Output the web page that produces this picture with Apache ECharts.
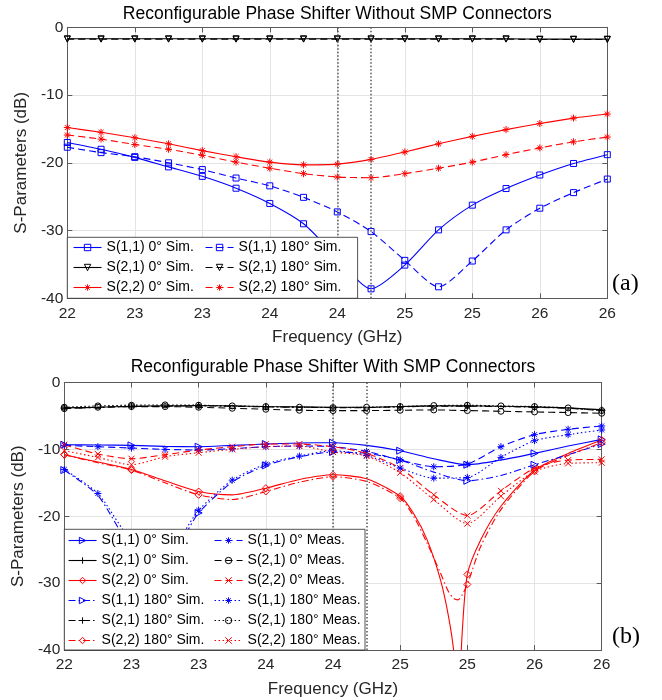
<!DOCTYPE html>
<html><head><meta charset="utf-8">
<script src="https://cdn.jsdelivr.net/npm/echarts@6/dist/echarts.min.js"></script>
<style>html,body{margin:0;padding:0;background:#fff}#c{width:662px;height:700px}</style>
</head><body><div id="c"></div>
<script>
// ---------------- DATA ----------------
const xTickLabels = ['22','23','23','24','24','25','25','26','26']; // labels at 22, 22.5, ... 26
const yTickValues = [0,-10,-20,-30,-40];
const markerFreqs = [24, 24.25];

// (a) Without SMP connectors — frequency points (GHz)
const freqA = [22,22.25,22.5,22.75,23,23.25,23.5,23.75,24,24.25,24.5,24.75,25,25.25,25.5,25.75,26];
const aS11_0   = [-17.0,-18.0,-19.2,-20.6,-22.0,-23.75,-26.0,-29.0,-34.0,-38.6,-35.1,-29.9,-26.25,-23.8,-21.8,-20.1,-18.8];
const aS11_180 = [-17.7,-18.5,-19.1,-20.0,-21.0,-22.25,-23.4,-25.1,-27.25,-30.15,-34.4,-38.3,-34.5,-29.9,-26.7,-24.4,-22.4];
const aS21_0   = [-1.7,-1.7,-1.7,-1.7,-1.7,-1.7,-1.7,-1.7,-1.7,-1.7,-1.7,-1.7,-1.7,-1.7,-1.75,-1.75,-1.75];
const aS21_180 = [-1.75,-1.75,-1.75,-1.75,-1.75,-1.75,-1.75,-1.75,-1.75,-1.75,-1.75,-1.75,-1.75,-1.75,-1.8,-1.8,-1.8];
const aS22_0   = [-14.8,-15.5,-16.3,-17.2,-18.2,-19.1,-19.9,-20.3,-20.2,-19.5,-18.4,-17.2,-16.1,-15.1,-14.2,-13.4,-12.8];
const aS22_180 = [-15.9,-16.5,-17.3,-18.0,-18.9,-19.9,-20.8,-21.6,-22.1,-22.2,-21.6,-20.8,-19.9,-18.8,-17.8,-16.9,-16.2];

// (b) With SMP connectors
const freqB = [22,22.25,22.5,22.75,23,23.25,23.5,23.75,24,24.25,24.5,24.75,25,25.25,25.5,25.75,26];
const bS11_0Sim    = [-9.3,-9.35,-9.4,-9.55,-9.6,-9.4,-9.2,-9.05,-9.0,-9.4,-10.2,-11.4,-12.3,-11.6,-10.6,-9.5,-8.5];
const bS21_0Sim    = [-3.8,-3.7,-3.55,-3.5,-3.45,-3.5,-3.6,-3.65,-3.7,-3.7,-3.6,-3.5,-3.5,-3.55,-3.65,-3.8,-4.1];
const bS11_180Sim  = [-13.1,-16.9,-24.5,-26.5,-19.5,-14.9,-12.4,-11.1,-10.4,-10.6,-11.6,-13.4,-14.7,-13.9,-12.3,-10.8,-9.2];
const bS21_180Sim  = [-3.85,-3.75,-3.6,-3.55,-3.5,-3.55,-3.65,-3.7,-3.75,-3.75,-3.65,-3.55,-3.55,-3.6,-3.7,-3.85,-4.2];
const freqB22Sim   = [22,22.25,22.5,22.75,23,23.25,23.5,23.75,24,24.25,24.5,24.6,24.7,24.8,24.86,24.9,24.93,24.96,25,25.1,25.25,25.5,25.75,26];
const bS22_0Sim    = [-10.8,-11.9,-13.0,-14.7,-16.3,-16.8,-15.8,-14.5,-13.8,-14.4,-17.0,-19.6,-23.5,-29.5,-35.0,-40.5,-50,-38.0,-28.7,-23.5,-18.5,-13.1,-10.6,-8.6];
const bS22_180Sim  = [-10.8,-12.0,-13.1,-15.0,-16.8,-17.5,-16.3,-14.9,-14.1,-14.8,-17.3,-20.0,-24.0,-28.5,-31.3,-32.3,-32.5,-31.8,-30.2,-24.5,-19.0,-13.3,-10.9,-9.0];
const bS11_0Meas   = [-9.4,-9.6,-9.8,-10.0,-10.1,-9.9,-9.6,-9.5,-9.6,-10.3,-11.6,-12.6,-12.2,-9.6,-7.8,-7.0,-6.5];
const bS21_0Meas   = [-3.9,-3.7,-3.6,-3.6,-3.7,-3.85,-4.0,-4.15,-4.2,-4.2,-4.15,-4.1,-4.2,-4.3,-4.4,-4.5,-4.6];
const bS22_0Meas   = [-9.3,-10.7,-11.4,-10.8,-10.1,-9.6,-9.2,-9.2,-9.6,-10.6,-12.8,-16.8,-19.9,-16.2,-12.8,-11.6,-11.5];
const bS11_180Meas = [-13.0,-16.6,-23.5,-25.5,-19.1,-14.6,-12.2,-11.0,-10.2,-10.9,-12.8,-14.3,-14.2,-11.2,-8.7,-7.8,-7.1];
const bS21_180Meas = [-3.7,-3.5,-3.4,-3.35,-3.4,-3.5,-3.6,-3.7,-3.75,-3.7,-3.6,-3.45,-3.4,-3.5,-3.6,-3.8,-4.2];
const bS22_180Meas = [-10.2,-11.2,-12.3,-11.1,-10.5,-10.0,-9.6,-9.5,-10.4,-11.0,-13.5,-17.5,-21.1,-17.0,-13.3,-12.1,-12.0];

// ---------------- STYLE ----------------
const FONT = "'Liberation Sans', Arial, Helvetica, sans-serif";
const BLUE = '#0000ff', RED = '#ff0000', BLACK = '#000000';
const SYM = {
  square: 'rect',
  triDown: 'path://M0,0L10,0L5,9Z',
  triRight: 'path://M0,0L9,5L0,10Z',
  asterisk: 'path://M5,0L5,10M0,5L10,5M1.5,1.5L8.5,8.5M8.5,1.5L1.5,8.5',
  plus: 'path://M5,0L5,10M0,5L10,5',
  cross: 'path://M0,0L10,10M10,0L0,10',
  diamond: 'diamond',
  circle: 'circle'
};
const DASH = { solid: 'solid', dashed: [7,4], dotted: [1.5,2.5], dashdot: [7,3,1.5,3] };

function pts(xs, ys, step) {
  return xs.map((x, i) => {
    const on = Math.abs(x / step - Math.round(x / step)) < 1e-6;
    return on ? [x, ys[i]] : { value: [x, ys[i]], symbol: 'none' };
  });
}
function mkSeries(name, xs, ys, color, dash, sym, size, step, axis) {
  return {
    type: 'line', name: name, data: pts(xs, ys, step),
    xAxisIndex: axis, yAxisIndex: axis,
    smooth: 0.25, symbol: SYM[sym], symbolSize: size, showSymbol: true, showAllSymbol: true,
    lineStyle: { color: color, width: 1.1, type: DASH[dash] },
    itemStyle: { color: 'rgba(0,0,0,0)', borderColor: color, borderWidth: 1 },
    emphasis: { disabled: true }, silent: true, animation: false, z: 2
  };
}
const mlStyle = { color: '#555555', type: [1.5, 2], width: 1.5 };
function markLineFor(s) {
  s.markLine = { silent: true, symbol: ['none','none'], label: { show: false }, z: 3,
    lineStyle: mlStyle, animation: false, data: markerFreqs.map(f => ({ xAxis: f })) };
  return s;
}

const series = [
  markLineFor(mkSeries('S(1,1) 0° Sim.', freqA, aS11_0, BLUE, 'solid', 'square', 6, 0.25, 0)),
  mkSeries('S(1,1) 180° Sim.', freqA, aS11_180, BLUE, 'dashed', 'square', 6, 0.25, 0),
  mkSeries('S(2,1) 0° Sim.', freqA, aS21_0, BLACK, 'solid', 'triDown', 6, 0.25, 0),
  mkSeries('S(2,1) 180° Sim.', freqA, aS21_180, BLACK, 'dashed', 'triDown', 6, 0.25, 0),
  mkSeries('S(2,2) 0° Sim.', freqA, aS22_0, RED, 'solid', 'asterisk', 7, 0.25, 0),
  mkSeries('S(2,2) 180° Sim.', freqA, aS22_180, RED, 'dashed', 'asterisk', 7, 0.25, 0),

  markLineFor(mkSeries('S(1,1) 0° Sim.|b', freqB, bS11_0Sim, BLUE, 'solid', 'triRight', 7, 0.5, 2)),
  mkSeries('S(2,1) 0° Sim.|b', freqB, bS21_0Sim, BLACK, 'solid', 'plus', 7, 0.5, 2),
  mkSeries('S(2,2) 0° Sim.|b', freqB22Sim, bS22_0Sim, RED, 'solid', 'diamond', 7, 0.5, 2),
  mkSeries('S(1,1) 180° Sim.|b', freqB, bS11_180Sim, BLUE, 'dashdot', 'triRight', 7, 0.5, 2),
  mkSeries('S(2,1) 180° Sim.|b', freqB, bS21_180Sim, BLACK, 'dashdot', 'plus', 7, 0.5, 2),
  mkSeries('S(2,2) 180° Sim.|b', freqB22Sim, bS22_180Sim, RED, 'dashdot', 'diamond', 7, 0.5, 2),
  mkSeries('S(1,1) 0° Meas.', freqB, bS11_0Meas, BLUE, 'dashed', 'asterisk', 7, 0.25, 2),
  mkSeries('S(2,1) 0° Meas.', freqB, bS21_0Meas, BLACK, 'dashed', 'circle', 6, 0.25, 2),
  mkSeries('S(2,2) 0° Meas.', freqB, bS22_0Meas, RED, 'dashed', 'cross', 6, 0.25, 2),
  mkSeries('S(1,1) 180° Meas.', freqB, bS11_180Meas, BLUE, 'dotted', 'asterisk', 7, 0.25, 2),
  mkSeries('S(2,1) 180° Meas.', freqB, bS21_180Meas, BLACK, 'dotted', 'circle', 6, 0.25, 2),
  mkSeries('S(2,2) 180° Meas.', freqB, bS22_180Meas, RED, 'dotted', 'cross', 6, 0.25, 2)
];

const AX = '#5a5a5a', TXT = '#262626', GRIDC = '#e3e3e3';
function xAx(grid, main, gap) {
  return {
    gridIndex: grid, type: 'value', min: 22, max: 26, interval: 0.5,
    position: main ? 'bottom' : 'top',
    axisLine: { show: true, onZero: false, lineStyle: { color: AX, width: 1 } },
    axisTick: { show: true, inside: true, length: 5, lineStyle: { color: AX } },
    axisLabel: { show: main, margin: 7, color: TXT, fontFamily: FONT, fontSize: 15.5,
      formatter: v => xTickLabels[Math.round((v - 22) / 0.5)] },
    splitLine: { show: main, lineStyle: { color: GRIDC, width: 1 } },
    name: main ? 'Frequency (GHz)' : '', nameLocation: 'middle', nameGap: gap,
    nameTextStyle: { color: TXT, fontFamily: FONT, fontSize: 17 }
  };
}
function yAx(grid, main, gap) {
  return {
    gridIndex: grid, type: 'value', min: -40, max: 0, interval: 10,
    position: main ? 'left' : 'right',
    axisLine: { show: true, onZero: false, lineStyle: { color: AX, width: 1 } },
    axisTick: { show: true, inside: true, length: 5, lineStyle: { color: AX } },
    axisLabel: { show: main, margin: 4, color: TXT, fontFamily: FONT, fontSize: 15.5,
      formatter: v => String(yTickValues.find(t => Math.abs(t - v) < 1e-6) ?? v) },
    splitLine: { show: main, lineStyle: { color: GRIDC, width: 1 } },
    name: main ? 'S-Parameters (dB)' : '', nameLocation: 'middle', nameGap: gap, nameRotate: 90,
    nameTextStyle: { color: TXT, fontFamily: FONT, fontSize: 17 }
  };
}
function legend(names, left, top) {
  return {
    orient: 'vertical', left: left, top: top, padding: 0, itemGap: 0,
    itemWidth: 28, itemHeight: 8, selectedMode: false, z: 10,
    data: names,
    formatter: n => n.split('|')[0],
    textStyle: { fontFamily: FONT, fontSize: 14, color: '#000', lineHeight: 20 },
    itemStyle: { borderWidth: 1 },
    lineStyle: { width: 1.1 }
  };
}

const option = {
  animation: false,
  backgroundColor: '#ffffff',
  grid: [
    { left: 67.3, top: 27.3, width: 540, height: 271, outerBoundsMode: 'none' },
    { left: 64.3, top: 382.5, width: 537.4, height: 267.5, outerBoundsMode: 'none' }
  ],
  xAxis: [xAx(0, true, 31), xAx(0, false, 0), xAx(1, true, 31), xAx(1, false, 0)],
  yAxis: [yAx(0, true, 33), yAx(0, false, 0), yAx(1, true, 31), yAx(1, false, 0)],
  legend: [
    legend(['S(1,1) 0° Sim.', 'S(2,1) 0° Sim.', 'S(2,2) 0° Sim.'], 73, 237.5),
    legend(['S(1,1) 180° Sim.', 'S(2,1) 180° Sim.', 'S(2,2) 180° Sim.'], 205, 237.5),
    legend(['S(1,1) 0° Sim.|b', 'S(2,1) 0° Sim.|b', 'S(2,2) 0° Sim.|b',
            'S(1,1) 180° Sim.|b', 'S(2,1) 180° Sim.|b', 'S(2,2) 180° Sim.|b'], 68, 530.5),
    legend(['S(1,1) 0° Meas.', 'S(2,1) 0° Meas.', 'S(2,2) 0° Meas.',
            'S(1,1) 180° Meas.', 'S(2,1) 180° Meas.', 'S(2,2) 180° Meas.'], 214, 530.5)
  ],
  graphic: { elements: [
    { type: 'rect', z: 5, silent: true, shape: { x: 67.3, y: 237.3, width: 290.3, height: 61 },
      style: { fill: '#ffffff', stroke: '#262626', lineWidth: 0.8 } },
    { type: 'rect', z: 5, silent: true, shape: { x: 64.3, y: 529.3, width: 300.7, height: 120.7 },
      style: { fill: '#ffffff', stroke: '#262626', lineWidth: 0.8 } },
    { type: 'text', z: 10, silent: true, x: 337.3, y: 14.5,
      style: { text: 'Reconfigurable Phase Shifter Without SMP Connectors', font: '17.5px ' + FONT,
        fill: '#000', textAlign: 'center', textVerticalAlign: 'middle' } },
    { type: 'text', z: 10, silent: true, x: 333, y: 367,
      style: { text: 'Reconfigurable Phase Shifter With SMP Connectors', font: '17.5px ' + FONT,
        fill: '#000', textAlign: 'center', textVerticalAlign: 'middle' } },
    { type: 'text', z: 10, silent: true, x: 612, y: 284,
      style: { text: '(a)', font: "24px 'Liberation Serif', 'Times New Roman', serif",
        fill: '#000', textAlign: 'left', textVerticalAlign: 'middle' } },
    { type: 'text', z: 10, silent: true, x: 612, y: 637,
      style: { text: '(b)', font: "24px 'Liberation Serif', 'Times New Roman', serif",
        fill: '#000', textAlign: 'left', textVerticalAlign: 'middle' } }
  ] },
  series: series
};

const chart = echarts.init(document.getElementById('c'), null, { renderer: 'canvas' });
chart.setOption(option);
</script>
</body></html>
